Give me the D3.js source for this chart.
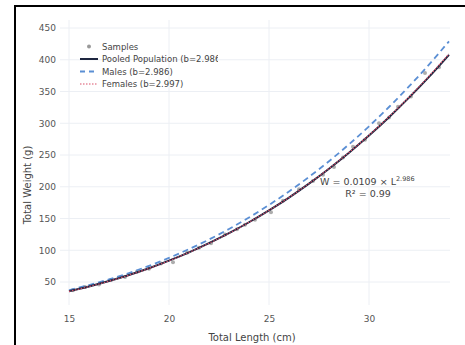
<!DOCTYPE html>
<meta charset="utf-8">
<script src="https://d3js.org/d3.v7.min.js"></script>
<style>
  body { margin: 0; background: #fff; }
  text { font-family: "DejaVu Sans", Verdana, sans-serif; }
</style>
<div id="chart"></div>
<script>
  // fitted curves at whole centimetres
  var lengths = [15,16,17,18,19,20,21,22,23,24,25,26,27,28,29,30,31,32,33,34];
  var pooled  = [35.4,43.0,51.5,61.1,71.7,83.6,96.7,111.2,126.9,144.1,162.8,183.0,204.9,228.4,253.6,280.6,309.5,340.3,373.0,407.8];
  var males   = [37.2,45.2,54.1,64.2,75.5,88.0,101.8,116.9,133.5,151.6,171.3,192.6,215.5,240.2,266.8,295.2,325.6,358.0,392.4,429.0];
  var females = [35.2,42.7,51.3,60.8,71.5,83.4,96.6,111.0,126.8,144.1,162.8,183.1,205.1,228.7,254.0,281.2,310.2,341.2,374.2,409.2];

  // sample points
  var sampleLen = [15.2,15.8,16.5,17.1,17.8,18.4,19.0,19.6,20.2,20.9,21.5,22.1,22.8,23.4,23.8,24.3,25.1,25.7,26.5,27.2,27.7,28.25,28.7,29.2,29.8,30.5,31.0,31.45,32.1,32.8,33.5];
  var sampleW   = [37,42,46,53,58,66,71,79,81,96,104,111,125,133,140,148,160,178,196,209,219,231,246,263,274,300,309,326,342,379,388];

  var xTicks = [15,20,25,30];
  var yTicks = [50,100,150,200,250,300,350,400,450];

  var legendLabels = ["Samples", "Pooled Population (b=2.986)", "Males (b=2.986)", "Females (b=2.997)"];

  var width = 465, height = 345;
  var plot = {left: 60, right: 450, top: 20, bottom: 305};

  var svg = d3.select("#chart").append("svg")
      .attr("width", width)
      .attr("height", height);

  svg.append("rect").attr("width", width).attr("height", height).attr("fill", "#fff");

  var x = d3.scaleLinear().domain([14.55, 34.05]).range([plot.left, plot.right]);
  var y = d3.scaleLinear().domain([13.8, 462.6]).range([plot.bottom, plot.top]);

  // grid
  svg.append("g").selectAll("line.h").data(yTicks).join("line")
      .attr("x1", plot.left).attr("x2", plot.right)
      .attr("y1", d => y(d)).attr("y2", d => y(d))
      .attr("stroke", "#eceff4").attr("stroke-width", 1);
  svg.append("g").selectAll("line.v").data(xTicks).join("line")
      .attr("x1", d => x(d)).attr("x2", d => x(d))
      .attr("y1", plot.top).attr("y2", plot.bottom)
      .attr("stroke", "#eceff4").attr("stroke-width", 1);

  // axes (labels only)
  var yAxis = svg.append("g")
      .attr("transform", "translate(" + (plot.left - 4) + ",0)")
      .call(d3.axisLeft(y).tickValues(yTicks).tickSize(0).tickPadding(0));
  var xAxis = svg.append("g")
      .attr("transform", "translate(0," + (plot.bottom + 11) + ")")
      .call(d3.axisBottom(x).tickValues(xTicks).tickSize(0).tickPadding(0));
  [xAxis, yAxis].forEach(function(a) {
    a.select(".domain").remove();
    a.selectAll("text").attr("fill", "#555").style("font-size", "9px")
      .style("font-family", "DejaVu Sans, Verdana, sans-serif");
  });

  svg.append("text")
      .attr("x", 252).attr("y", 341)
      .attr("text-anchor", "middle")
      .attr("fill", "#444").style("font-size", "10px")
      .text("Total Length (cm)");
  svg.append("text")
      .attr("transform", "translate(31,185) rotate(-90)")
      .attr("text-anchor", "middle")
      .attr("fill", "#444").style("font-size", "10px")
      .text("Total Weight (g)");

  var line = d3.line()
      .x(d => x(d[0])).y(d => y(d[1]))
      .curve(d3.curveMonotoneX);

  // samples
  svg.append("g").selectAll("circle").data(d3.zip(sampleLen, sampleW)).join("circle")
      .attr("cx", d => x(d[0])).attr("cy", d => y(d[1]))
      .attr("r", 2).attr("fill", "#999").attr("fill-opacity", 0.8);

  svg.append("path").datum(d3.zip(lengths, males))
      .attr("d", line).attr("fill", "none")
      .attr("stroke", "#5b8fd4").attr("stroke-width", 1.8)
      .attr("stroke-dasharray", "6,4");
  svg.append("path").datum(d3.zip(lengths, pooled))
      .attr("d", line).attr("fill", "none")
      .attr("stroke", "#1e2640").attr("stroke-width", 2);
  svg.append("path").datum(d3.zip(lengths, females))
      .attr("d", line).attr("fill", "none")
      .attr("stroke", "#d9506a").attr("stroke-width", 1.2)
      .attr("stroke-dasharray", "1.5,1.5");

  // legend (clipped like the original)
  svg.append("clipPath").attr("id", "legclip")
    .append("rect").attr("x", 70).attr("y", 35).attr("width", 148).attr("height", 60);
  var leg = svg.append("g").attr("clip-path", "url(#legclip)");
  var rowY = [46.5, 59, 71.5, 84];
  leg.append("circle").attr("cx", 89).attr("cy", rowY[0]).attr("r", 2).attr("fill", "#999");
  leg.append("line").attr("x1", 80).attr("x2", 98).attr("y1", rowY[1]).attr("y2", rowY[1])
      .attr("stroke", "#1e2640").attr("stroke-width", 2);
  leg.append("line").attr("x1", 80).attr("x2", 98).attr("y1", rowY[2]).attr("y2", rowY[2])
      .attr("stroke", "#5b8fd4").attr("stroke-width", 1.8).attr("stroke-dasharray", "5,4");
  leg.append("line").attr("x1", 80).attr("x2", 98).attr("y1", rowY[3]).attr("y2", rowY[3])
      .attr("stroke", "#d9506a").attr("stroke-width", 1.2).attr("stroke-dasharray", "1.5,1.5");
  leg.selectAll("text").data(legendLabels).join("text")
      .attr("x", 102).attr("y", (d, i) => rowY[i] + 3)
      .attr("fill", "#444").style("font-size", "8.5px")
      .text(d => d);

  // annotation
  var ann = svg.append("text")
      .attr("x", 320).attr("y", 185)
      .attr("fill", "#444").style("font-size", "9.5px");
  ann.append("tspan").text("W = 0.0109 × L");
  ann.append("tspan").attr("dy", -4).style("font-size", "6.5px").text("2.986");
  svg.append("text")
      .attr("x", 368).attr("y", 197)
      .attr("text-anchor", "middle")
      .attr("fill", "#444").style("font-size", "9.5px")
      .text("R² = 0.99");

  // frame
  svg.append("line").attr("x1", 15).attr("x2", 15).attr("y1", 5).attr("y2", height)
      .attr("stroke", "#000").attr("stroke-width", 2);
  svg.append("line").attr("x1", 14).attr("x2", width).attr("y1", 6).attr("y2", 6)
      .attr("stroke", "#000").attr("stroke-width", 2);
</script>
